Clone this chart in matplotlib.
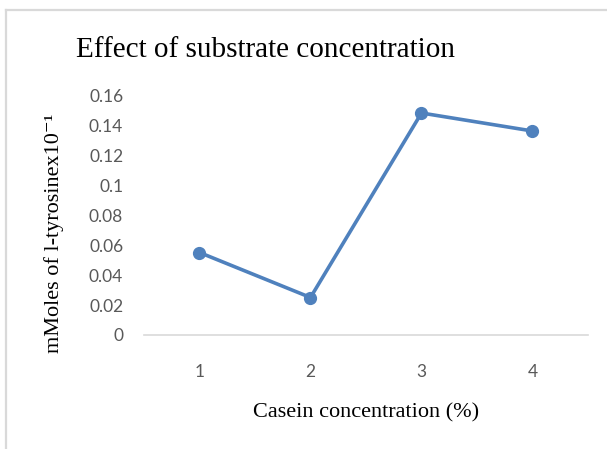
import matplotlib.pyplot as plt
from matplotlib.lines import Line2D

# data
casein = [1, 2, 3, 4]
tyrosine = [0.055, 0.025, 0.148, 0.136]
yticks = [0, 0.02, 0.04, 0.06, 0.08, 0.1, 0.12, 0.14, 0.16]
ytick_labels = ['0', '0.02', '0.04', '0.06', '0.08', '0.1', '0.12', '0.14', '0.16']

fig = plt.figure(figsize=(6.07, 4.49), dpi=100)
ax = fig.add_axes([0.2372, 0.2539, 0.7315, 0.5345])

ax.plot(casein, tyrosine, color='#4F81BD', lw=2.6, marker='o', ms=8.5,
        solid_capstyle='round', zorder=3)

ax.set_xlim(0.5, 4.5)
ax.set_ylim(0, 0.16)
ax.set_xticks(casein)
ax.set_yticks(yticks)
ax.set_yticklabels(ytick_labels)

for s in ['top', 'right', 'left']:
    ax.spines[s].set_visible(False)
ax.spines['bottom'].set_color('#D9D9D9')
ax.spines['bottom'].set_linewidth(1.2)
ax.tick_params(length=0, colors='#595959', labelsize=12.5)
ax.tick_params(axis='y', pad=15)
ax.tick_params(axis='x', pad=21)
for lab in ax.get_xticklabels() + ax.get_yticklabels():
    lab.set_family('Lato')

serif = ['Liberation Serif', 'DejaVu Serif']
fig.text(266 / 607, 1 - 50 / 449, 'Effect of substrate concentration',
         family=serif, fontsize=21, ha='center', va='center')
fig.text(54 / 607, 1 - 233 / 449, 'mMoles of l-tyrosinex10\u207b\u00b9',
         family=serif, fontsize=16, rotation=90, ha='center', va='center')
fig.text(366 / 607, 1 - 413 / 449, 'Casein concentration (%)',
         family=serif, fontsize=16, ha='center', va='center')

# light frame of the chart area (top and left edges visible)
fig.add_artist(Line2D([6 / 607, 1], [1 - 10 / 449, 1 - 10 / 449], color='#D9D9D9', lw=1.6))
fig.add_artist(Line2D([6 / 607, 6 / 607], [0, 1 - 10 / 449], color='#D9D9D9', lw=1.6))

fig.savefig('out.png', dpi=100)
